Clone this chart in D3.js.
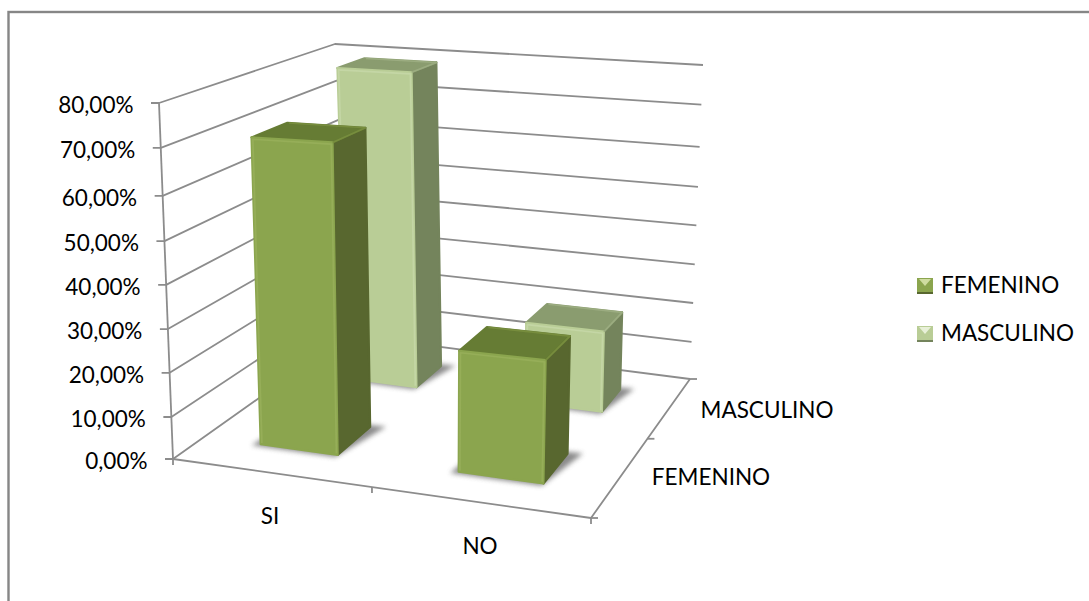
<!DOCTYPE html>
<html>
<head>
<meta charset="utf-8">
<script src="https://cdn.jsdelivr.net/npm/d3@7"></script>
<style>
  html, body { margin: 0; padding: 0; background: #fff; overflow: hidden; }
  text { font-family: Lato, "Open Sans", sans-serif; fill: #000; }
</style>
</head>
<body>
<svg id="chart" width="1089" height="601"></svg>
<script>
// Chart data
const categories = ["SI", "NO"];
const seriesNames = ["FEMENINO", "MASCULINO"];
const femenino = [70.4, 27.2];
const masculino = [79, 19.9];
const valueTicks = [0, 10, 20, 30, 40, 50, 60, 70, 80];

const seriesValues = [femenino, masculino];
const palette = [
  { front: "#8ba54e", side: "#58672f", top: "#667c34", edge: "#96ae59", topEdge: "#778d3e" },
  { front: "#b9cd96", side: "#74845c", top: "#8a9c6f", edge: "#c4d6a5", topEdge: "#9bac80" }
];
const gridColor = "#8c8c8c";
const fontSize = 22.5;

const svg = d3.select("#chart");
const defs = svg.append("defs");
defs.append("filter").attr("id", "soft")
  .attr("x", "-30%").attr("y", "-30%").attr("width", "160%").attr("height", "160%")
  .append("feGaussianBlur").attr("stdDeviation", 2.4);
defs.append("filter").attr("id", "bevel")
  .attr("x", "-10%").attr("y", "-10%").attr("width", "120%").attr("height", "120%")
  .append("feGaussianBlur").attr("stdDeviation", 0.7);

// Outer chart frame, running past the right and bottom of the page
svg.append("rect")
  .attr("x", 8.5).attr("y", 12).attr("width", 1200).attr("height", 700)
  .attr("fill", "#fff").attr("stroke", "#868686").attr("stroke-width", 2.4);

// Corners of the plot box in screen space: [x, y] by width, depth, height
const box = {
  p000: [173, 459], p100: [591, 518], p010: [348, 335], p110: [690, 379],
  p001: [159, 103], p101: [601, 125], p011: [335, 44], p111: [703, 65]
};

const xEdge = d3.scaleLinear().domain([0, 1, 2]).range([0, 0.476, 1]);
const zEdge = d3.scaleLinear().domain([0, 1, 2]).range([0, 0.57, 1]);
// Perspective stretches the value axis slightly, so each tick has its own stop
const yValue = d3.scaleLinear().domain(valueTicks)
  .range([0, 0.118, 0.242, 0.365, 0.489, 0.612, 0.739, 0.874, 1]);

// Trilinear blend of the box corners
function project(u, w, v) {
  const mix = (k) =>
    (1 - v) * ((1 - w) * ((1 - u) * box.p000[k] + u * box.p100[k]) +
               w * ((1 - u) * box.p010[k] + u * box.p110[k])) +
    v * ((1 - w) * ((1 - u) * box.p001[k] + u * box.p101[k]) +
         w * ((1 - u) * box.p011[k] + u * box.p111[k]));
  return [mix(0), mix(1)];
}

const line = d3.line();
const closed = (pts) => line(pts) + "Z";

// Walls and gridlines
const grid = svg.append("g").attr("fill", "none").attr("stroke", gridColor)
  .attr("stroke-width", 1.8).attr("stroke-linejoin", "round");

valueTicks.forEach((t) => {
  const v = yValue(t);
  const start = project(0, 0, v);
  grid.append("path").attr("d", line([
    [start[0] - 8, start[1]], start, project(0, 1, v), project(1, 1, v)
  ]));
});
grid.append("path").attr("d", line([project(0, 0, 0), project(0, 0, 1)]));
grid.append("path").attr("d", line([
  [project(0, 0, 0)[0], project(0, 0, 0)[1] + 6], project(0, 0, 0)
]));
grid.append("path").attr("d", line([project(0, 0, 0), project(1, 0, 0), project(1, 1, 0)]));

// Tick marks along the two floor edges
[1, 2].forEach((i) => {
  const p = project(xEdge(i), 0, 0);
  grid.append("path").attr("d", line([p, [p[0], p[1] + 6]]));
});
[0, 1, 2].forEach((i) => {
  const p = project(1, zEdge(i), 0);
  grid.append("path").attr("d", line([p, [p[0] + 7, p[1]]]));
});

// One bevelled column
function drawBar(catIndex, seriesIndex, value) {
  const c = palette[seriesIndex];
  const u0 = xEdge(catIndex + 0.29), u1 = xEdge(catIndex + 0.69);
  const w0 = zEdge(seriesIndex + 0.32), w1 = zEdge(seriesIndex + 0.70);
  const v = yValue(value);
  const g = svg.append("g");

  // Soft contact shadow on the floor
  const s = 0.016;
  g.append("path")
    .attr("d", closed([
      project(u0 - s, w0 - s, 0), project(u1, w0 - s, 0),
      project(u1 + s * 2.2, w1 + s, 0), project(u0, w1, 0)
    ]))
    .attr("fill", "#6e6e6e").attr("opacity", 0.8).attr("filter", "url(#soft)");

  const faces = [
    { fill: c.side, pts: [[u1, w0, 0], [u1, w1, 0], [u1, w1, v], [u1, w0, v]] },
    { fill: c.top, pts: [[u0, w0, v], [u1, w0, v], [u1, w1, v], [u0, w1, v]] },
    { fill: c.front, pts: [[u0, w0, 0], [u1, w0, 0], [u1, w0, v], [u0, w0, v]] }
  ];
  faces.forEach((f) => {
    g.append("path")
      .attr("d", closed(f.pts.map((p) => project(p[0], p[1], p[2]))))
      .attr("fill", f.fill).attr("stroke", f.fill)
      .attr("stroke-width", 2.2).attr("stroke-linejoin", "round");
  });

  // Lit rim along the back of the top face
  g.append("path")
    .attr("d", line([
      project(u0 + 0.004, w1, v), project(u1, w1, v), project(u1, w0, v)
    ]))
    .attr("fill", "none").attr("stroke", c.topEdge).attr("stroke-width", 1.6)
    .attr("stroke-linejoin", "round").attr("filter", "url(#bevel)");

  // Lit bevel along the top and side edges of the front face
  const inset = 0.003;
  g.append("path")
    .attr("d", line([
      project(u0 + inset, w0, 0.004), project(u0 + inset, w0, v - 0.005),
      project(u1 - inset, w0, v - 0.005), project(u1 - inset, w0, 0.004)
    ]))
    .attr("fill", "none").attr("stroke", c.edge).attr("stroke-width", 1.7)
    .attr("stroke-linejoin", "round").attr("filter", "url(#bevel)");
}

[1, 0].forEach((si) => {
  categories.forEach((_, ci) => drawBar(ci, si, seriesValues[si][ci]));
});

// Value axis labels follow the lean of the axis
const valueFormat = (t) => t.toFixed(2).replace(".", ",") + "%";
svg.append("g").selectAll("text").data(valueTicks).join("text")
  .attr("x", (t) => project(0, 0, yValue(t))[0] - 25.5)
  .attr("y", (t) => project(0, 0, yValue(t))[1] + 4.5)
  .attr("text-anchor", "end").attr("dominant-baseline", "middle")
  .attr("font-size", fontSize).text(valueFormat);

// Category and depth labels
const catLabelPos = [[270, 518], [480, 548]];
svg.append("g").selectAll("text").data(categories).join("text")
  .attr("x", (d, i) => catLabelPos[i][0]).attr("y", (d, i) => catLabelPos[i][1])
  .attr("text-anchor", "middle").attr("dominant-baseline", "middle")
  .attr("font-size", fontSize).text((d) => d);

const depthLabelPos = [[711, 479], [767, 412]];
svg.append("g").selectAll("text").data(seriesNames).join("text")
  .attr("x", (d, i) => depthLabelPos[i][0]).attr("y", (d, i) => depthLabelPos[i][1])
  .attr("text-anchor", "middle").attr("dominant-baseline", "middle")
  .attr("font-size", fontSize).text((d) => d);

// Legend
const legendY = d3.scalePoint().domain(seriesNames).range([285, 333]);
const legend = svg.append("g");
seriesNames.forEach((name, i) => {
  const y = legendY(name), c = palette[i];
  const x0 = 917, s = 16, top = y - 7;
  legend.append("rect").attr("x", x0).attr("y", top).attr("width", s).attr("height", s).attr("fill", c.front);
  legend.append("path")
    .attr("d", closed([[x0 + 2, top + 1], [x0 + s - 2, top + 1], [x0 + s / 2, top + s / 2]]))
    .attr("fill", i === 0 ? "#cfdca0" : "#e8f0d8");
  legend.append("path")
    .attr("d", closed([[x0, top + s - 2], [x0 + s, top + s - 2], [x0 + s, top + s], [x0, top + s]]))
    .attr("fill", c.side);
  legend.append("text").attr("x", 941).attr("y", y + 2)
    .attr("dominant-baseline", "middle").attr("font-size", fontSize).text(name);
});
</script>
</body>
</html>
